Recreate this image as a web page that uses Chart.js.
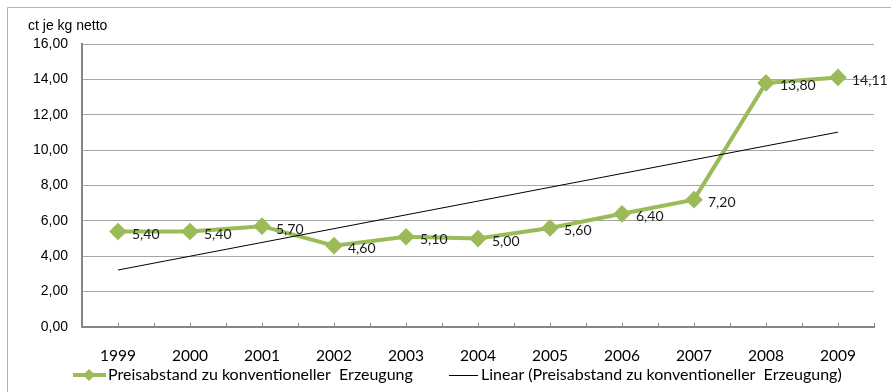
<!DOCTYPE html>
<html>
<head>
<meta charset="utf-8">
<script src="https://cdn.jsdelivr.net/npm/chart.js@4/dist/chart.umd.min.js"></script>
<style>
  html, body { margin: 0; padding: 0; background: #ffffff; }
  #wrap { position: relative; width: 891px; height: 392px; }
</style>
</head>
<body>
<div id="wrap"><canvas id="c" width="891" height="392"></canvas></div>
<script>
// Price gap of organic vs. conventional production, cents per kg net
const years = ['1999', '2000', '2001', '2002', '2003', '2004', '2005', '2006', '2007', '2008', '2009'];
const priceGap = [5.40, 5.40, 5.70, 4.60, 5.10, 5.00, 5.60, 6.40, 7.20, 13.80, 14.11];
const yTickValues = [0, 2, 4, 6, 8, 10, 12, 14, 16];
const unitLabel = 'ct je kg netto';
const seriesName = 'Preisabstand zu konventioneller  Erzeugung';
const trendName = 'Linear (Preisabstand zu konventioneller  Erzeugung)';

const GREEN = '#9bbb59';
const fmt = v => v.toFixed(2).replace('.', ',');

// Least-squares linear trend over the category index
function linearTrend(values) {
  const n = values.length;
  const mx = (n - 1) / 2;
  const my = values.reduce((a, b) => a + b, 0) / n;
  let sxy = 0, sxx = 0;
  values.forEach((y, i) => { sxy += (i - mx) * (y - my); sxx += (i - mx) * (i - mx); });
  const slope = sxy / sxx;
  return values.map((_, i) => my + slope * (i - mx));
}
const trend = linearTrend(priceGap);

// Outer frame around the chart
const framePlugin = {
  id: 'frame',
  beforeDraw(chart) {
    const ctx = chart.ctx;
    ctx.save();
    ctx.fillStyle = '#ffffff';
    ctx.fillRect(0, 0, chart.width, chart.height);
    ctx.strokeStyle = '#b3b3b3';
    ctx.lineWidth = 1;
    ctx.beginPath();
    ctx.moveTo(7.5, chart.height);
    ctx.lineTo(7.5, 7.5);
    ctx.lineTo(chart.width, 7.5);
    ctx.stroke();
    ctx.restore();
  }
};

// Small inward tick marks on the category axis, at centres and boundaries
const axisTicksPlugin = {
  id: 'axisTicks',
  afterDraw(chart) {
    const x = chart.scales.x;
    const ctx = chart.ctx;
    const n = years.length;
    const step = (x.right - x.left) / (2 * n);
    ctx.save();
    ctx.strokeStyle = '#868686';
    ctx.lineWidth = 1;
    ctx.beginPath();
    for (let i = 1; i <= 2 * n; i++) {
      const px = Math.round(x.left + i * step) + 0.5;
      ctx.moveTo(px, x.top);
      ctx.lineTo(px, x.top - 4);
    }
    ctx.stroke();
    ctx.restore();
  }
};

// Value labels to the right of each point
const valueLabelsPlugin = {
  id: 'valueLabels',
  afterDatasetsDraw(chart) {
    const meta = chart.getDatasetMeta(0);
    const ctx = chart.ctx;
    ctx.save();
    ctx.font = '14px Lato';
    ctx.fillStyle = '#1a1a1a';
    ctx.textAlign = 'left';
    ctx.textBaseline = 'middle';
    meta.data.forEach((pt, i) => {
      ctx.fillText(fmt(priceGap[i]), pt.x + 14, pt.y + 3);
    });
    ctx.restore();
  }
};

// Unit caption and bottom legend
const captionLegendPlugin = {
  id: 'captionLegend',
  afterDraw(chart) {
    const ctx = chart.ctx;
    ctx.save();
    ctx.fillStyle = '#000000';
    ctx.textBaseline = 'middle';
    ctx.textAlign = 'left';
    ctx.font = '14px "Liberation Sans"';
    ctx.fillText(unitLabel, 28, 26);

    const ly = 375;
    // series entry
    ctx.strokeStyle = GREEN;
    ctx.lineWidth = 4;
    ctx.beginPath();
    ctx.moveTo(73, ly);
    ctx.lineTo(106, ly);
    ctx.stroke();
    ctx.fillStyle = GREEN;
    ctx.beginPath();
    ctx.moveTo(89, ly - 6);
    ctx.lineTo(95, ly);
    ctx.lineTo(89, ly + 6);
    ctx.lineTo(83, ly);
    ctx.closePath();
    ctx.fill();
    ctx.fillStyle = '#000000';
    ctx.font = '16px Lato';
    ctx.fillText(seriesName, 108, ly);

    // trend entry
    ctx.strokeStyle = '#000000';
    ctx.lineWidth = 1;
    ctx.beginPath();
    ctx.moveTo(449, ly + 0.5);
    ctx.lineTo(478, ly + 0.5);
    ctx.stroke();
    ctx.fillText(trendName, 481, ly);
    ctx.restore();
  }
};

new Chart(document.getElementById('c'), {
  type: 'line',
  data: {
    labels: years,
    datasets: [
      {
        label: seriesName,
        data: priceGap,
        borderColor: GREEN,
        backgroundColor: GREEN,
        borderWidth: 4,
        pointStyle: 'rectRot',
        pointRadius: 6,
        pointHoverRadius: 6,
        pointBackgroundColor: GREEN,
        pointBorderColor: GREEN,
        tension: 0,
        order: 1
      },
      {
        label: trendName,
        data: trend,
        borderColor: '#000000',
        borderWidth: 1,
        pointRadius: 0,
        tension: 0,
        order: 0
      }
    ]
  },
  options: {
    responsive: false,
    devicePixelRatio: 1,
    animation: false,
    layout: { padding: { top: 44, right: 17, left: 0, bottom: 0 } },
    plugins: {
      legend: { display: false },
      tooltip: { enabled: false },
      title: { display: false }
    },
    scales: {
      x: {
        offset: true,
        afterFit: s => { s.height = 65; },
        grid: { display: false, drawTicks: false },
        border: { display: true, color: '#868686', width: 2 },
        ticks: {
          padding: 20,
          color: '#000000',
          font: { family: 'Lato', size: 15.5 },
          maxRotation: 0
        }
      },
      y: {
        min: 0,
        max: 16,
        afterFit: s => { s.width = 82; },
        afterBuildTicks: s => { s.ticks = yTickValues.map(v => ({ value: v })); },
        grid: { color: '#a6a6a6', lineWidth: 1, drawTicks: false },
        border: { display: true, color: '#868686', width: 2 },
        ticks: {
          padding: 14,
          color: '#000000',
          font: { family: 'Liberation Sans', size: 14 },
          callback: v => fmt(v)
        }
      }
    }
  },
  plugins: [framePlugin, axisTicksPlugin, valueLabelsPlugin, captionLegendPlugin]
});
</script>
</body>
</html>
